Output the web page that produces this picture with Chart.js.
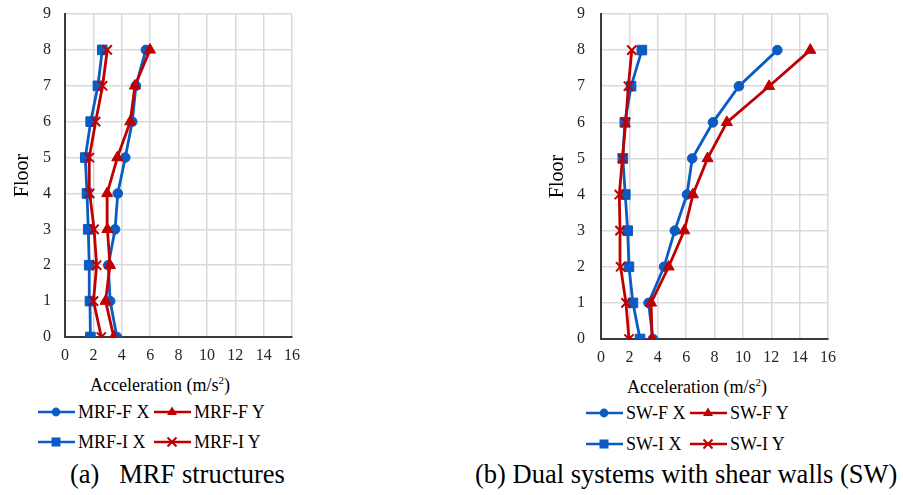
<!DOCTYPE html>
<html>
<head>
<meta charset="utf-8">
<script src="https://cdn.jsdelivr.net/npm/chart.js@4.4.1/dist/chart.umd.min.js"></script>
<style>
  html, body { margin: 0; padding: 0; background: #fff; }
  body { width: 903px; height: 495px; position: relative; overflow: hidden;
         font-family: "Liberation Serif", "Times New Roman", serif; color: #000; }
  canvas { position: absolute; top: 0; }
  .t { position: absolute; white-space: nowrap; line-height: 1; }
  .axt { font-size: 18px; color: #000; }
  .axt sup { font-size: 11px; vertical-align: 7px; line-height: 0; }
  .lg { position: absolute; font-size: 18px; line-height: 1; white-space: nowrap; display: flex; align-items: center; }
  .lg svg { display: block; margin-right: 3px; }
  .cap { font-size: 26.5px; }
</style>
</head>
<body>
<canvas id="mrf" width="320" height="370" style="left:0px;width:320px;height:370px"></canvas>
<canvas id="sw" width="320" height="370" style="left:530px;width:320px;height:370px"></canvas>

<div class="t axt" style="left:90px;top:376px">Acceleration (m/s<sup>2</sup>)</div>
<div class="t axt" style="left:627px;top:378px">Acceleration (m/s<sup>2</sup>)</div>

<div id="legA"></div>
<div id="legB"></div>

<div class="t cap" style="left:70px;top:461px">(a)&nbsp;&nbsp;&nbsp;MRF structures</div>
<div class="t cap" style="left:475px;top:461px">(b) Dual systems with shear walls (SW)</div>

<script>
// Floor levels and axis ticks
const floors = [0, 1, 2, 3, 4, 5, 6, 7, 8];
const xTicks = [0, 2, 4, 6, 8, 10, 12, 14, 16];
const yTicks = [0, 1, 2, 3, 4, 5, 6, 7, 8, 9];

// Peak floor accelerations (m/s²), moment-resisting frames
const mrfFX = [3.66, 3.18, 3.05, 3.53, 3.72, 4.25, 4.74, 5.00, 5.70];
const mrfFY = [3.44, 2.86, 3.17, 2.99, 2.97, 3.69, 4.60, 4.93, 5.99];
const mrfIX = [1.79, 1.76, 1.71, 1.64, 1.55, 1.43, 1.81, 2.32, 2.63];
const mrfIY = [2.56, 2.01, 2.23, 2.05, 1.74, 1.71, 2.16, 2.65, 2.98];

// Peak floor accelerations (m/s²), dual systems with shear walls
const swFX = [3.66, 3.35, 4.44, 5.20, 6.06, 6.43, 7.89, 9.72, 12.43];
const swFY = [3.60, 3.53, 4.77, 5.87, 6.48, 7.51, 8.87, 11.85, 14.75];
const swIX = [2.75, 2.25, 1.97, 1.88, 1.71, 1.54, 1.68, 2.12, 2.88];
const swIY = [1.97, 1.76, 1.38, 1.34, 1.29, 1.51, 1.74, 1.93, 2.17];

const BLUE = '#0b5bc4';
const RED = '#c00000';

const seriesA = [
  { label: 'MRF-F X', values: mrfFX, color: BLUE, marker: 'circle' },
  { label: 'MRF-F Y', values: mrfFY, color: RED, marker: 'triangle' },
  { label: 'MRF-I X', values: mrfIX, color: BLUE, marker: 'rect' },
  { label: 'MRF-I Y', values: mrfIY, color: RED, marker: 'crossRot' }
];
const seriesB = [
  { label: 'SW-F X', values: swFX, color: BLUE, marker: 'circle' },
  { label: 'SW-F Y', values: swFY, color: RED, marker: 'triangle' },
  { label: 'SW-I X', values: swIX, color: BLUE, marker: 'rect' },
  { label: 'SW-I Y', values: swIY, color: RED, marker: 'crossRot' }
];

const SERIF = '"Liberation Serif", "Times New Roman", serif';
Chart.defaults.font.family = SERIF;

const markerRadius = { circle: 4.8, triangle: 6.4, rect: 6.8, crossRot: 6.5 };
const tickFont = { family: SERIF, size: 16 };

function buildChart(id, series, box) {
  return new Chart(document.getElementById(id), {
    type: 'scatter',
    data: {
      datasets: series.map(s => ({
        label: s.label,
        data: floors.map((f, i) => ({ x: s.values[i], y: f })),
        showLine: true,
        borderColor: s.color,
        backgroundColor: s.color,
        borderWidth: 2.8,
        pointStyle: s.marker,
        pointRadius: markerRadius[s.marker],
        pointBorderWidth: s.marker === 'crossRot' ? 2 : 1,
        order: s.color === RED ? 0 : 1
      }))
    },
    options: {
      responsive: false,
      animation: false,
      devicePixelRatio: 1,
      layout: { padding: { top: box.padTop, right: box.padRight, bottom: 0, left: 0 } },
      plugins: { legend: { display: false }, tooltip: { enabled: false } },
      scales: {
        x: {
          type: 'linear', min: 0, max: 16,
          afterBuildTicks: s => { s.ticks = xTicks.map(v => ({ value: v })); },
          afterFit: s => { s.height = box.xHeight; s.paddingLeft = 0; s.paddingRight = 0; },
          ticks: { font: tickFont, color: '#262626', padding: 9 },
          grid: { color: '#d9d9d9', lineWidth: 1.5, drawTicks: false },
          border: { color: '#3a3a3a', width: 2 }
        },
        y: {
          type: 'linear', min: 0, max: 9,
          afterBuildTicks: s => { s.ticks = yTicks.map(v => ({ value: v })); },
          afterFit: s => { s.width = box.yWidth; s.paddingTop = 0; s.paddingBottom = 0; },
          ticks: { font: tickFont, color: '#262626', padding: box.yPad },
          grid: { color: '#d9d9d9', lineWidth: 1.5, drawTicks: false },
          border: { color: '#3a3a3a', width: 2 },
          title: {
            display: true, text: 'Floor', color: '#000',
            font: { family: SERIF, size: 20 },
            padding: { top: box.titlePad, bottom: 0 }
          }
        }
      }
    }
  });
}

buildChart('mrf', seriesA, { padTop: 14, padRight: 28, xHeight: 33, yWidth: 65, yPad: 14, titlePad: 11 });
buildChart('sw', seriesB, { padTop: 14, padRight: 22, xHeight: 31, yWidth: 71, yPad: 16, titlePad: 16 });

// Legend entries: a short line with the series marker in its middle
function markerSvg(marker, color) {
  const cx = 18, cy = 7;
  let m = '';
  if (marker === 'circle') m = `<circle cx="${cx}" cy="${cy}" r="4.4" fill="${color}"/>`;
  if (marker === 'triangle') m = `<polygon points="${cx},${cy - 5.5} ${cx + 5},${cy + 3} ${cx - 5},${cy + 3}" fill="${color}"/>`;
  if (marker === 'rect') m = `<rect x="${cx - 4.5}" y="${cy - 4.5}" width="9" height="9" fill="${color}"/>`;
  if (marker === 'crossRot') m = `<path d="M${cx - 4.5} ${cy - 4.5}L${cx + 4.5} ${cy + 4.5}M${cx + 4.5} ${cy - 4.5}L${cx - 4.5} ${cy + 4.5}" stroke="${color}" stroke-width="2"/>`;
  return `<svg width="37" height="14"><line x1="0" y1="${cy}" x2="37" y2="${cy}" stroke="${color}" stroke-width="2.6"/>${m}</svg>`;
}

function buildLegend(id, series, spots) {
  const host = document.getElementById(id);
  series.forEach((s, i) => {
    const d = document.createElement('div');
    d.className = 'lg';
    d.style.left = spots[i][0] + 'px';
    d.style.top = (spots[i][1] - 9) + 'px';
    d.innerHTML = markerSvg(s.marker, s.color) + '<span>' + s.label + '</span>';
    host.appendChild(d);
  });
}

buildLegend('legA', seriesA, [[38, 412], [154, 412], [38, 442], [154, 442]]);
buildLegend('legB', seriesB, [[586, 413], [690, 413], [586, 444], [690, 444]]);
</script>
</body>
</html>
